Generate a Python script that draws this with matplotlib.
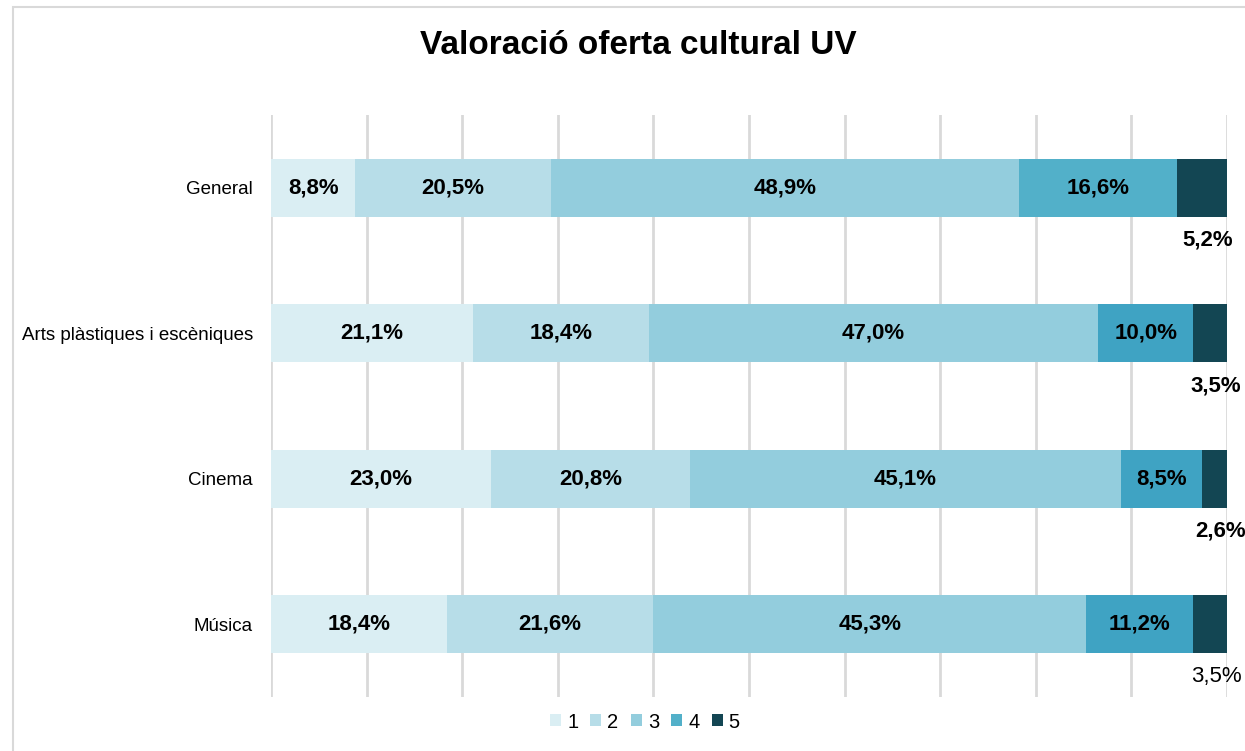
import matplotlib.pyplot as plt
import matplotlib.patches as mpatches
import numpy as np

plt.rcParams['font.family'] = ['Liberation Sans', 'DejaVu Sans']

# dades de la valoracio (percentatges per categoria)
categories = ["General", "Arts plàstiques i escèniques", "Cinema", "Música"]
levels = ["1", "2", "3", "4", "5"]
v1 = [8.8, 21.1, 23.0, 18.4]
v2 = [20.5, 18.4, 20.8, 21.6]
v3 = [48.9, 47.0, 45.1, 45.3]
v4 = [16.6, 10.0, 8.5, 11.2]
v5 = [5.2, 3.5, 2.6, 3.5]

series = [v1, v2, v3, v4, v5]
colors = ["#daeef3", "#b7dde8", "#93cddd", "#3fa3c3", "#134653"]
general_4 = "#52b0c9"  # the General bar uses a lighter tone for level 4

fig = plt.figure(figsize=(12.45, 7.51), dpi=100)
ax = fig.add_axes([0.2177, 0.0719, 0.7678, 0.775])

# border around the chart area
fig.patches.append(mpatches.Rectangle((13 / 1245, -0.05), 1.2, 1 - 7 / 751 + 0.05,
                                      transform=fig.transFigure, fill=False,
                                      edgecolor="#d9d9d9", lw=1.5))

y = np.arange(len(categories))
left = np.zeros(len(categories))
for i, vals in enumerate(series):
    cols = [colors[i]] * len(categories)
    if i == 3:
        cols[0] = general_4
    ax.barh(y, vals, left=left, height=0.4, color=cols, label=levels[i], zorder=3)
    for j, v in enumerate(vals):
        label = f"{v:.1f}%".replace(".", ",")
        if i < 4:
            ax.text(left[j] + v / 2, y[j], label, ha="center", va="center",
                    fontsize=16, fontweight="bold", color="black", zorder=4)
        else:
            weight = "normal" if j == 3 else "bold"
            ax.text(left[j] + v / 2 + 0.6, y[j] + 0.36, label, ha="center", va="center",
                    fontsize=16, fontweight=weight, color="black", zorder=4)
    left += np.array(vals)

ax.set_xlim(0, 100)
ax.set_ylim(len(categories) - 0.5, -0.5)
ax.set_xticks(np.arange(0, 101, 10))
ax.set_xticklabels([])
ax.tick_params(axis="x", length=0)
ax.tick_params(axis="y", length=0, pad=13, labelsize=13.5)
ax.set_yticks(y)
ax.set_yticklabels(categories)
ax.grid(axis="x", color="#d9d9d9", lw=2, zorder=0)
for s in ax.spines.values():
    s.set_visible(False)

fig.text(0.513, 0.94, "Valoració oferta cultural UV", ha="center", va="center",
         fontsize=24, fontweight="bold")

fig.legend(loc="center", bbox_to_anchor=(0.518, 0.0386), ncol=5, frameon=False,
           fontsize=14.5, handlelength=0.55, handleheight=0.55, handletextpad=0.3,
           columnspacing=0.6)

fig.savefig("out.png", dpi=100)
